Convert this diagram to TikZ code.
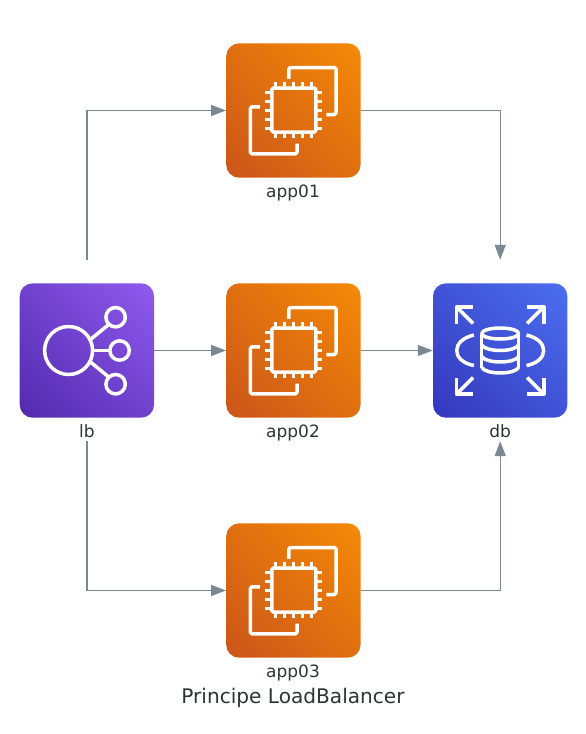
\documentclass[tikz,border=0pt]{standalone}
\usepackage{fontspec}
\setmainfont{DejaVu Sans}
\usetikzlibrary{arrows.meta}
\definecolor{edgegrey}{HTML}{7B8894}
\definecolor{captionink}{HTML}{2D3436}
\definecolor{computelight}{HTML}{F78E04}
\definecolor{computedark}{HTML}{C8511B}
\definecolor{networklight}{HTML}{945DF2}
\definecolor{networkdark}{HTML}{4D27AA}
\definecolor{datalight}{HTML}{4D72F3}
\definecolor{datadark}{HTML}{3334B9}
% ---- corner to corner blends for the tiles ----
\pgfdeclareverticalshading{computeblend}{100bp}{color(0bp)=(computedark); color(10bp)=(computedark); color(90bp)=(computelight); color(100bp)=(computelight)}
\pgfdeclareverticalshading{networkblend}{100bp}{color(0bp)=(networkdark); color(10bp)=(networkdark); color(90bp)=(networklight); color(100bp)=(networklight)}
\pgfdeclareverticalshading{datablend}{100bp}{color(0bp)=(datadark); color(10bp)=(datadark); color(90bp)=(datalight); color(100bp)=(datalight)}
% ---- white line icons, drawn round the centre of a tile ----
\newcommand{\computeicon}[1]{%
  \begin{scope}[shift={(#1)}, icon]
    \draw[rounded corners=1.5pt] (-4.6,-31.7) -- (-4.6,-43) -- (42.6,-43) -- (42.6,4) -- (33,4);
    \draw[rounded corners=1.5pt] (-33.6,-3.7) -- (-43,-3.7) -- (-43,43.3) -- (3.6,43.3) -- (3.6,33);
    \draw[rounded corners=1.5pt] (-21.6,-22.5) rectangle (22.4,21.5);
    \foreach \pin in {-18,-9,0,9,18} {
      \draw[line width=3pt] (\pin+0.2,-28.3) -- (\pin+0.2,-23);
      \draw[line width=3pt] (\pin+0.2,22) -- (\pin+0.2,27.8);
      \draw[line width=3pt] (-28.4,\pin-0.5) -- (-22.4,\pin-0.5);
      \draw[line width=3pt] (22.6,\pin-0.5) -- (28.2,\pin-0.5);
    }
  \end{scope}}
\newcommand{\balancericon}[1]{%
  \begin{scope}[shift={(#1)}, icon]
    \draw (-18.3,0) circle (24);
    \draw (28.7,-33.3) circle (9.7);
    \draw (32.7,0) circle (9.7);
    \draw (28.7,33.7) circle (9.7);
    \draw (4.2,-11.5) -- (21.2,-25.5);
    \draw (5.7,0) -- (23,0);
    \draw (4.2,12) -- (21.2,26);
  \end{scope}}
\newcommand{\databaseicon}[1]{%
  \begin{scope}[shift={(#1)}, icon]
    \draw (0,-17) ellipse (18.5 and 5.5);
    \draw (-18.5,-17) -- (-18.5,17);
    \draw (18.5,-17) -- (18.5,17);
    \foreach \band in {-5.5,6,17} {
      \draw (-18.5,\band) .. controls (-14,\band+7.3) and (14,\band+7.3) .. (18.5,\band);
    }
    \draw (-26.3,-15.5) .. controls (-37,-13) and (-43.5,-7) .. (-43.5,0)
      .. controls (-43.5,7) and (-37,13) .. (-26.3,15);
    \draw (26.3,-15.5) .. controls (37,-13) and (43.5,-7) .. (43.5,0)
      .. controls (43.5,7) and (37,13) .. (26.3,15);
    \foreach \sx/\sy in {-1/-1,1/-1,-1/1,1/1} {
      \draw (\sx*27,\sy*43.6) -- (\sx*43.6,\sy*43.6) -- (\sx*43.6,\sy*27);
      \draw (\sx*43.6,\sy*43.6) -- (\sx*27,\sy*27);
    }
  \end{scope}}

\begin{document}
\begin{tikzpicture}[
  x=1pt,
  y=-1pt,
  every node/.style={text=captionink, inner sep=0pt},
  tile/.style={minimum size=134.4pt, rounded corners=13pt, shade, shading angle=-45},
  compute/.style={tile, shading=computeblend},
  network/.style={tile, shading=networkblend},
  data/.style={tile, shading=datablend},
  hull/.style={minimum width=134.4pt, minimum height=181pt},
  icon/.style={white, line width=3.5pt, line join=round},
  caption/.style={anchor=base, font=\fontsize{17}{20}\selectfont},
  edge/.style={edgegrey, line width=1.3pt,
               -{Triangle[length=15pt, width=11pt]}}
]
  % ---- common bounding box ----
  \path[use as bounding box] (0,0) rectangle (586,734);

  % ---- tiles ----
  \node[network] (lbtile) at (86.9,350.5) {};
  \node[compute] (app01tile) at (293.4,110.5) {};
  \node[compute] (app02tile) at (293.4,350.5) {};
  \node[compute] (app03tile) at (293.4,590.5) {};
  \node[data] (dbtile) at (500.2,350.5) {};

  % ---- icons ----
  \balancericon{86.9,350.5}
  \computeicon{293.4,110.5}
  \computeicon{293.4,350.5}
  \computeicon{293.4,590.5}
  \databaseicon{500.2,350.5}

  % ---- captions ----
  \node[caption] (lbtext) at (86.9,437) {lb};
  \node[caption] (app01text) at (293,197) {app01};
  \node[caption] (app02text) at (293,437) {app02};
  \node[caption] (app03text) at (293,677) {app03};
  \node[caption] (dbtext) at (500.2,437) {db};
  \node[anchor=base, font=\fontsize{20.1}{24}\selectfont] (title) at (293,703)
    {Principe LoadBalancer};

  % ---- tile plus caption, the boxes that the edges run between ----
  \node[hull] (lb) at (86.9,350.5) {};
  \node[hull] (app01) at (293.4,110.5) {};
  \node[hull] (app02) at (293.4,350.5) {};
  \node[hull] (app03) at (293.4,590.5) {};
  \node[hull] (db) at (500.2,350.5) {};

  % ---- edges ----
  \draw[edge] (lb.north) |- (app01.west);
  \draw[edge] (lb.east) -- (app02.west);
  \draw[edge] (lb.south) |- (app03.west);
  \draw[edge] (app01.east) -| (db.north);
  \draw[edge] (app02.east) -- (db.west);
  \draw[edge] (app03.east) -| (db.south);
\end{tikzpicture}
\end{document}
